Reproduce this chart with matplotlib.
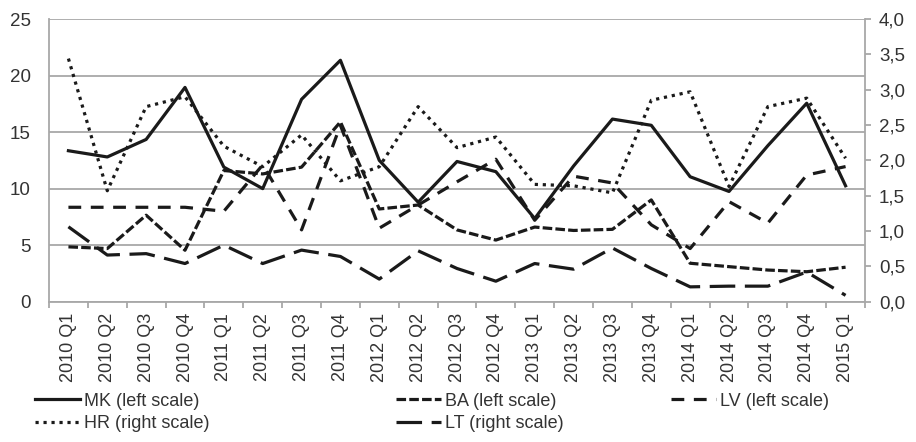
import matplotlib
matplotlib.use('Agg')
import matplotlib.pyplot as plt
from matplotlib.ticker import FuncFormatter
import numpy as np

categories = ['2010 Q1', '2010 Q2', '2010 Q3', '2010 Q4',
              '2011 Q1', '2011 Q2', '2011 Q3', '2011 Q4',
              '2012 Q1', '2012 Q2', '2012 Q3', '2012 Q4',
              '2013 Q1', '2013 Q2', '2013 Q3', '2013 Q4',
              '2014 Q1', '2014 Q2', '2014 Q3', '2014 Q4',
              '2015 Q1']

mk = [13.35, 12.8, 14.35, 18.95, 11.9, 10.0, 17.9, 21.35, 12.5, 8.8, 12.4,
      11.5, 7.35, 12.0, 16.15, 15.6, 11.05, 9.75, 13.8, 17.55, 10.25]
ba = [4.85, 4.7, 7.65, 4.55, 11.6, 11.3, 11.9, 15.9, 8.2, 8.55, 6.35,
      5.45, 6.6, 6.3, 6.4, 9.0, 3.4, 3.1, 2.8, 2.65, 3.05]
lv = [8.35, 8.35, 8.35, 8.35, 8.0, 12.1, 6.35, 15.6, 6.5, 8.55, 10.6,
      12.6, 7.2, 11.1, 10.5, 6.8, 4.7, 8.85, 6.95, 11.2, 11.95]
hr = [3.44, 1.57, 2.76, 2.9, 2.2, 1.91, 2.36, 1.71, 1.91, 2.76, 2.18,
      2.33, 1.66, 1.64, 1.54, 2.85, 2.97, 1.63, 2.76, 2.88, 2.03]
lt = [1.06, 0.66, 0.68, 0.54, 0.8, 0.54, 0.73, 0.64, 0.32, 0.72, 0.47,
      0.29, 0.54, 0.46, 0.76, 0.47, 0.21, 0.22, 0.22, 0.42, 0.09]

left_ticks = [0, 5, 10, 15, 20, 25]
right_ticks = [0.0, 0.5, 1.0, 1.5, 2.0, 2.5, 3.0, 3.5, 4.0]

plt.rcParams['font.family'] = ['Liberation Sans', 'DejaVu Sans']

W, H = 916, 442
fig = plt.figure(figsize=(W / 100, H / 100), dpi=100)
L, R, T, B = 49, 865, 19, 301.7
ax = fig.add_axes([L / W, 1 - B / H, (R - L) / W, (B - T) / H])
ax2 = ax.twinx()

x = np.arange(len(categories))
lw = 2.3
c = '#1a1a1a'
gray = '#a8a8a8'
txt = '#333333'

l_mk, = ax.plot(x, mk, color=c, lw=lw, label='MK (left scale)')
l_ba, = ax.plot(x, ba, color=c, lw=lw, dashes=(3, 1), label='BA (left scale)')
l_lv, = ax.plot(x, lv, color=c, lw=lw, dashes=(4, 3), label='LV (left scale)')
l_hr, = ax2.plot(x, hr, color=c, lw=lw, dashes=(1, 1.5), label='HR (right scale)')
l_lt, = ax2.plot(x, lt, color=c, lw=lw, dashes=(8, 3), label='LT (right scale)')

ax.set_xlim(-0.5, len(categories) - 0.5)
ax.set_ylim(0, 25)
ax2.set_ylim(0, 4)

ax.set_yticks(left_ticks)
ax.yaxis.grid(True, color=gray, lw=1.3)
ax.set_axisbelow(True)
ax.tick_params(axis='y', length=0, pad=13, labelsize=13.5, labelcolor=txt)

ax2.set_yticks(right_ticks)
ax2.yaxis.set_major_formatter(FuncFormatter(lambda v, p: f'{v:.1f}'.replace('.', ',')))
ax2.tick_params(axis='y', length=4, width=1.3, color=gray, pad=6,
                labelsize=13.5, labelcolor=txt)

ax.set_xticks(x)
ax.set_xticklabels(categories, rotation=90)
ax.set_xticks(np.arange(-0.5, len(categories), 1), minor=True)
ax.tick_params(axis='x', which='major', length=0, pad=8, labelsize=13, labelcolor=txt)
ax.tick_params(axis='x', which='minor', length=4.5, width=1.3, color=gray)

for a in (ax, ax2):
    a.spines['top'].set_visible(False)
    for s in a.spines.values():
        s.set_color(gray)
        s.set_linewidth(1.3)
ax.spines['right'].set_visible(False)
ax2.spines['left'].set_visible(False)
ax2.spines['bottom'].set_visible(False)

entries = [(l_mk, 35, 401), (l_ba, 396, 401), (l_lv, 671, 401),
           (l_hr, 35, 424), (l_lt, 396, 424)]
for h, px, py in entries:
    fig.legend(handles=[h], loc='center left', bbox_to_anchor=(px / W, 1 - py / H),
               frameon=False, borderpad=0, borderaxespad=0, handlelength=2.5,
               handletextpad=0.2, fontsize=13, labelcolor=txt)

fig.savefig('out.png', dpi=100)
